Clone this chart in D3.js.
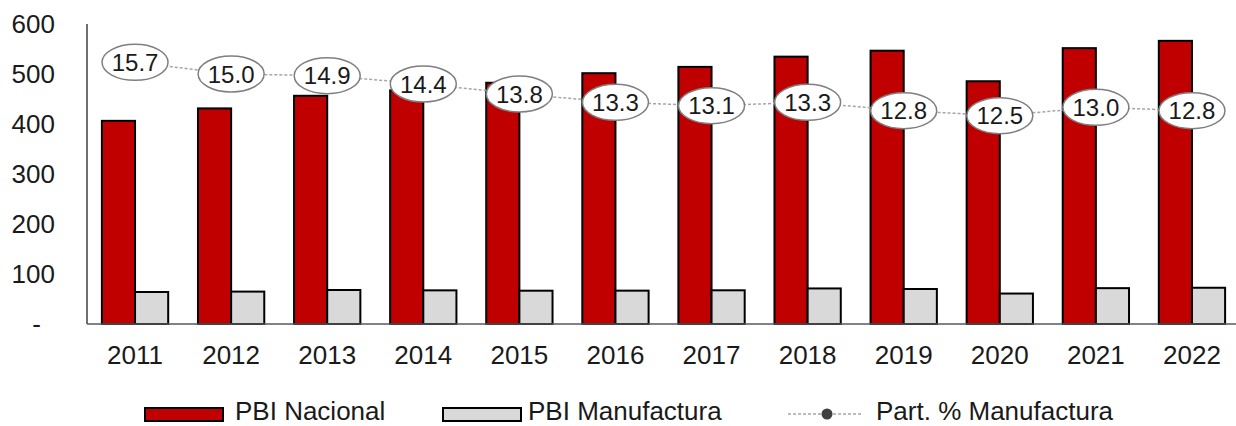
<!DOCTYPE html>
<html>
<head>
<meta charset="utf-8">
<script src="https://cdn.jsdelivr.net/npm/d3@7"></script>
<style>
  html, body { margin: 0; padding: 0; background: #fff; }
  svg { display: block; font-family: "Liberation Sans", Arial, sans-serif; }
</style>
</head>
<body>
<svg id="chart" width="1236" height="426"></svg>
<script>
const years = ["2011","2012","2013","2014","2015","2016","2017","2018","2019","2020","2021","2022"];
const pbiNacional = [406.3, 431.2, 456.4, 467.3, 482.5, 501.6, 514.2, 534.7, 546.6, 485.5, 551.7, 566.3];
const pbiManufactura = [64.0, 64.8, 68.0, 67.3, 66.6, 66.7, 67.4, 71.1, 70.0, 60.9, 71.7, 72.5];
const partManufactura = [15.7, 15.0, 14.9, 14.4, 13.8, 13.3, 13.1, 13.3, 12.8, 12.5, 13.0, 12.8];
const yTicks = [0, 100, 200, 300, 400, 500, 600];
const yTickLabels = ["-", "100", "200", "300", "400", "500", "600"];
const legendLabels = ["PBI Nacional", "PBI Manufactura", "Part. % Manufactura"];

(function () {
const svg = d3.select("#chart");
const mLeft = 87, mRight = 1240, mTop = 24, mBottom = 324;
const axisFont = 26;

const x0 = d3.scaleBand().domain(years).range([mLeft, mRight]).paddingInner(0.31).paddingOuter(0.155);
const x1 = d3.scaleBand().domain(["nac","man"]).range([0, x0.bandwidth()]);
const y = d3.scaleLinear().domain([0, 600]).range([mBottom, mTop]);
const y2 = d3.scaleLinear().domain([0, 18]).range([mBottom, mTop]);

// y axis labels
svg.append("g").selectAll("text").data(yTicks).join("text")
  .attr("x", (d) => d === 0 ? 41 : 55)
  .attr("y", d => y(d))
  .attr("dy", "0.35em")
  .attr("text-anchor", "end")
  .attr("font-size", axisFont)
  .attr("fill", "#1a1a1a")
  .text((d, i) => yTickLabels[i]);

// y axis line
svg.append("line").attr("x1", mLeft).attr("x2", mLeft).attr("y1", mTop).attr("y2", mBottom)
  .attr("stroke", "#404040").attr("stroke-width", 1.5);

// bars
const groups = svg.append("g").selectAll("g").data(years).join("g")
  .attr("transform", d => `translate(${x0(d)},0)`);
groups.append("rect")
  .attr("x", x1("nac")).attr("width", x1.bandwidth())
  .attr("y", (d, i) => y(pbiNacional[i])).attr("height", (d, i) => mBottom - y(pbiNacional[i]))
  .attr("fill", "#C00000").attr("stroke", "#000").attr("stroke-width", 2);
groups.append("rect")
  .attr("x", x1("man")).attr("width", x1.bandwidth())
  .attr("y", (d, i) => y(pbiManufactura[i])).attr("height", (d, i) => mBottom - y(pbiManufactura[i]))
  .attr("fill", "#D9D9D9").attr("stroke", "#000").attr("stroke-width", 2);

// x axis line
svg.append("line").attr("x1", mLeft).attr("x2", 1236).attr("y1", mBottom).attr("y2", mBottom)
  .attr("stroke", "#595959").attr("stroke-width", 1.5);

// x labels
svg.append("g").selectAll("text").data(years).join("text")
  .attr("x", d => x0(d) + x0.bandwidth() / 2)
  .attr("y", 364)
  .attr("text-anchor", "middle")
  .attr("font-size", axisFont)
  .attr("fill", "#1a1a1a")
  .text(d => d);

// line
const cx = d => x0(d) + x0.bandwidth() / 2;
const line = d3.line().x((d, i) => cx(years[i])).y(d => y2(d));
svg.append("path").datum(partManufactura)
  .attr("d", line).attr("fill", "none")
  .attr("stroke", "#A6A6A6").attr("stroke-width", 1.5).attr("stroke-dasharray", "3,2");

const lab = svg.append("g").selectAll("g").data(partManufactura).join("g")
  .attr("transform", (d, i) => `translate(${cx(years[i])},${y2(d)})`);
lab.append("ellipse").attr("rx", 33).attr("ry", 18)
  .attr("fill", "#fff").attr("stroke", "#7F7F7F").attr("stroke-width", 1.5);
lab.append("text").attr("text-anchor", "middle").attr("dy", "0.36em")
  .attr("font-size", 24).attr("fill", "#1a1a1a")
  .text(d => d.toFixed(1));

// legend
const lg = svg.append("g");
const ly = 414;
const lbase = 420;
lg.append("rect").attr("x", 145).attr("y", ly - 6).attr("width", 78).attr("height", 13)
  .attr("fill", "#C00000").attr("stroke", "#000").attr("stroke-width", 2);
lg.append("text").attr("x", 235).attr("y", lbase).attr("font-size", axisFont)
  .attr("fill", "#1a1a1a").text(legendLabels[0]);
lg.append("rect").attr("x", 443).attr("y", ly - 6).attr("width", 78).attr("height", 13)
  .attr("fill", "#D9D9D9").attr("stroke", "#000").attr("stroke-width", 2);
lg.append("text").attr("x", 528).attr("y", lbase).attr("font-size", axisFont)
  .attr("fill", "#1a1a1a").text(legendLabels[1]);
lg.append("line").attr("x1", 788).attr("x2", 863).attr("y1", ly).attr("y2", ly)
  .attr("stroke", "#A6A6A6").attr("stroke-width", 1.5).attr("stroke-dasharray", "3,2");
lg.append("circle").attr("cx", 827).attr("cy", ly).attr("r", 5.5).attr("fill", "#404040");
lg.append("text").attr("x", 876).attr("y", lbase).attr("font-size", axisFont)
  .attr("fill", "#1a1a1a").text(legendLabels[2]);
})();
</script>
</body>
</html>
